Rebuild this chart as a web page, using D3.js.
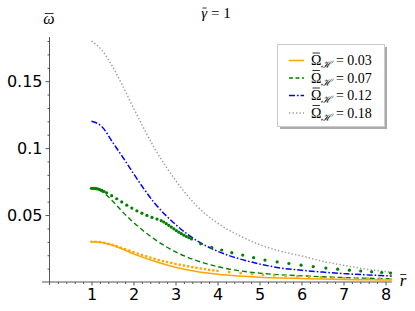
<!DOCTYPE html>
<html>
<head>
<meta charset="utf-8">
<script src="https://cdn.jsdelivr.net/npm/d3@7"></script>
<style>
  body { margin: 0; background: #fff; }
  svg { display: block; }
</style>
</head>
<body>
<div id="chart"></div>
<script>
// r grid the smooth curves are read at
const rGrid = [1, 1.25, 1.5, 1.75, 2, 2.5, 3, 3.5, 4, 4.5, 5, 5.5, 6, 6.5, 7, 7.5, 8, 8.15];

// line curves, one per Omega_H
const orangeSolid = [0.030, 0.0295, 0.0275, 0.0245, 0.021, 0.0155, 0.011, 0.0078, 0.0058, 0.0045, 0.0036, 0.0030, 0.0026, 0.0022, 0.0019, 0.0017, 0.0015, 0.0015];
const greenDash = [0.070, 0.0675, 0.0605, 0.052, 0.0445, 0.032, 0.0225, 0.016, 0.0115, 0.0085, 0.0066, 0.0054, 0.0046, 0.0039, 0.0033, 0.0029, 0.0025, 0.0024];
const blueDashDot = [0.120, 0.116, 0.1045, 0.093, 0.081, 0.059, 0.043, 0.031, 0.023, 0.0175, 0.0135, 0.0105, 0.0088, 0.0074, 0.0063, 0.0054, 0.0047, 0.0045];
const grayDotted = [0.180, 0.173, 0.161, 0.146, 0.130, 0.100, 0.076, 0.057, 0.044, 0.035, 0.028, 0.023, 0.0195, 0.0155, 0.0125, 0.0098, 0.0078, 0.0072];

// point series (orange, Omega_H = 0.03)
const orangePtsR = [1.0, 1.1, 1.2, 1.3, 1.4, 1.5, 1.6, 1.7, 1.8, 1.9, 2.0, 2.1, 2.2, 2.3, 2.4, 2.5, 2.6, 2.7, 2.8, 2.9, 3.0, 3.1, 3.2, 3.3, 3.4, 3.5, 3.6, 3.7, 3.8, 3.9, 4.0,
  4.28, 4.55, 4.82, 5.08, 5.35, 5.62, 5.9, 6.18, 6.46, 6.74, 7.02, 7.3, 7.58, 7.86, 8.12];
const orangePtsW = [0.0300, 0.0300, 0.0298, 0.0292, 0.0285, 0.0277, 0.0267, 0.0256, 0.0245, 0.0234, 0.0223, 0.0212, 0.0202, 0.0192, 0.0182, 0.0173, 0.0164, 0.0156, 0.0149, 0.0142, 0.0135, 0.0129, 0.0123, 0.0117, 0.0111, 0.0106, 0.0101, 0.0096, 0.0091, 0.0087, 0.0083,
  0.0074, 0.0066, 0.0059, 0.0054, 0.0049, 0.0045, 0.0041, 0.0038, 0.0035, 0.0032, 0.0030, 0.0028, 0.0026, 0.0024, 0.0022];

// point series (green, Omega_H = 0.07)
const greenPtsR = [1.00, 1.04, 1.08, 1.12, 1.16, 1.20, 1.25, 1.30, 1.36, 1.48, 1.60, 1.72, 1.84, 1.96, 2.08, 2.20, 2.32, 2.44, 2.56, 2.66,
  2.72, 2.78, 2.84, 2.90, 2.96, 3.02, 3.08, 3.14, 3.20, 3.26, 3.32, 3.38,
  3.60, 3.86, 4.10, 4.34, 4.60, 4.86, 5.13, 5.42, 5.70, 5.99, 6.28, 6.58, 6.86, 7.14, 7.41, 7.67, 7.91, 8.12];
const greenPtsW = [0.0700, 0.0700, 0.0699, 0.0697, 0.0694, 0.0690, 0.0684, 0.0676, 0.0666, 0.0645, 0.0622, 0.0598, 0.0574, 0.0552, 0.0532, 0.0514, 0.0497, 0.0482, 0.0470, 0.0458,
  0.0448, 0.0436, 0.0423, 0.0410, 0.0397, 0.0384, 0.0372, 0.0361, 0.0350, 0.0340, 0.0331, 0.0322,
  0.0285, 0.0259, 0.0239, 0.0219, 0.0201, 0.0182, 0.0164, 0.0150, 0.0138, 0.0126, 0.0115, 0.0104, 0.0096, 0.0088, 0.0082, 0.0076, 0.0071, 0.0067];

const legendLabels = ["0.03", "0.07", "0.12", "0.18"];
const xTicks = [1, 2, 3, 4, 5, 6, 7, 8];
const yTicks = [0.05, 0.1, 0.15];
const yTickLabels = ["0.05", "0.1", "0.15"];

const ORANGE = "#FFA500";
const GREEN = "#008000";
const BLUE = "#0000FF";
const GRAY = "#A0A0A0";
const AXIS = "#555";

const width = 415, height = 311;

const svg = d3.select("#chart").append("svg").attr("width", width).attr("height", height);

const x = d3.scaleLinear().domain([0, 8.15]).range([49.5, 391.8]);
const y = d3.scaleLinear().domain([0, 0.183]).range([282, 37]);

////////////////////////////////////////////////////////////////////////////////////
// axes

const xMinor = d3.range(0.2, 8.15, 0.2).filter(v => Math.abs(v - Math.round(v)) > 0.01);
const yMinor = d3.range(0.01, 0.182, 0.01).filter(v => Math.abs(v * 20 - Math.round(v * 20)) > 0.01);

const axes = svg.append("g");

axes.append("line")
  .attr("x1", 42).attr("x2", x(8.15)).attr("y1", y(0)).attr("y2", y(0))
  .attr("stroke", AXIS).attr("stroke-width", 1);
axes.append("line")
  .attr("x1", x(0)).attr("x2", x(0)).attr("y1", y(0) + 3).attr("y2", 37)
  .attr("stroke", AXIS).attr("stroke-width", 1);

const xAxis = axes.append("g")
  .attr("transform", `translate(0,${y(0)})`)
  .call(d3.axisBottom(x).tickValues(xTicks).tickSize(3.5).tickPadding(3.5).tickSizeOuter(0).tickFormat(d3.format("d")));
const xAxisMinor = axes.append("g")
  .attr("transform", `translate(0,${y(0)})`)
  .call(d3.axisBottom(x).tickValues(xMinor).tickSize(2).tickSizeOuter(0).tickFormat(""));

const yAxis = axes.append("g")
  .attr("transform", `translate(${x(0)},0)`)
  .call(d3.axisLeft(y).tickValues(yTicks).tickSize(4).tickPadding(3).tickSizeOuter(0).tickFormat((d, i) => yTickLabels[i]));
const yAxisMinor = axes.append("g")
  .attr("transform", `translate(${x(0)},0)`)
  .call(d3.axisLeft(y).tickValues(yMinor).tickSize(2).tickSizeOuter(0).tickFormat(""));

[xAxis, xAxisMinor, yAxis, yAxisMinor].forEach(g => {
  g.select(".domain").remove();
  g.selectAll(".tick line").attr("stroke", AXIS);
  g.selectAll(".tick text")
    .attr("fill", "#000")
    .style("font-family", "'DejaVu Sans', sans-serif")
    .style("font-size", "16px");
});

////////////////////////////////////////////////////////////////////////////////////
// curves

const line = d3.line()
  .x(d => x(d[0]))
  .y(d => y(d[1]))
  .curve(d3.curveMonotoneX);

const curves = [
  { values: grayDotted, color: GRAY, dash: "1.4,2.1", width: 1.5 },
  { values: blueDashDot, color: BLUE, dash: "6,2,1.6,2", width: 1.5 },
  { values: greenDash, color: GREEN, dash: "5,3", width: 1.4 },
  { values: orangeSolid, color: ORANGE, dash: null, width: 1.5 },
];

svg.append("g")
  .selectAll("path")
  .data(curves)
  .enter()
  .append("path")
  .attr("d", d => line(d.values.map((v, i) => [rGrid[i], v])))
  .attr("fill", "none")
  .attr("stroke", d => d.color)
  .attr("stroke-width", d => d.width)
  .attr("stroke-dasharray", d => d.dash);

// point plots drawn as small squares / dots, like the original
svg.append("g")
  .selectAll("rect")
  .data(orangePtsR.map((r, i) => [r, orangePtsW[i]]))
  .enter()
  .append("rect")
  .attr("x", d => x(d[0]) - 1.2)
  .attr("y", d => y(d[1]) - 1.2)
  .attr("width", 2.4)
  .attr("height", 2.4)
  .attr("fill", ORANGE);

svg.append("g")
  .selectAll("circle")
  .data(greenPtsR.map((r, i) => [r, greenPtsW[i]]))
  .enter()
  .append("circle")
  .attr("cx", d => x(d[0]))
  .attr("cy", d => y(d[1]))
  .attr("r", 1.6)
  .attr("fill", GREEN);

////////////////////////////////////////////////////////////////////////////////////
// labels (bars over symbols drawn as short lines)

const serif = "'Liberation Serif', 'DejaVu Serif', serif";

function barOver(textSel, charIndex, rise, inset, color) {
  const box = textSel.node().getExtentOfChar(charIndex);
  const baseY = +textSel.attr("y");
  textSel.select(function () { return this.parentNode; })
    .append("line")
    .attr("x1", box.x + inset[0]).attr("x2", box.x + box.width - inset[1])
    .attr("y1", baseY - rise).attr("y2", baseY - rise)
    .attr("stroke", color || "#000").attr("stroke-width", 0.8);
}

const title = svg.append("text")
  .attr("x", 216).attr("y", 17.5)
  .attr("text-anchor", "middle")
  .style("font-family", serif).style("font-size", "15px");
title.append("tspan").style("font-style", "italic").text("\u03B3");
title.append("tspan").text(" = 1");
barOver(title, 0, 9.5, [1.2, 0.6]);

const yLabel = svg.append("text")
  .attr("x", 49).attr("y", 24)
  .attr("text-anchor", "middle")
  .style("font-family", serif).style("font-size", "16px").style("font-style", "italic")
  .text("\u03C9");
barOver(yLabel, 0, 10.5, [1.5, 1]);

const xLabel = svg.append("text")
  .attr("x", 403).attr("y", 286)
  .attr("text-anchor", "middle")
  .style("font-family", serif).style("font-size", "17px").style("font-style", "italic")
  .text("r");
barOver(xLabel, 0, 11.5, [0.5, 0]);

////////////////////////////////////////////////////////////////////////////////////
// legend

const legend = svg.append("g");
legend.append("rect")
  .attr("x", 280).attr("y", 47).attr("width", 107).attr("height", 82)
  .attr("fill", "#aaa");
legend.append("rect")
  .attr("x", 277.5).attr("y", 44.5).attr("width", 107).attr("height", 82)
  .attr("fill", "#fff").attr("stroke", "#ccc").attr("stroke-width", 1);

const legendItems = [
  { color: ORANGE, dash: null },
  { color: GREEN, dash: "4,2.5" },
  { color: BLUE, dash: "6,2,1.6,2" },
  { color: GRAY, dash: "1.4,2.1" },
];
const rowY = [60.5, 78, 95.5, 113];

const item = legend.selectAll("g.item")
  .data(legendItems)
  .enter()
  .append("g")
  .attr("class", "item")
  .attr("transform", (d, i) => `translate(0,${rowY[i]})`);

item.append("line")
  .attr("x1", 289).attr("x2", 304).attr("y1", 0).attr("y2", 0)
  .attr("stroke", d => d.color)
  .attr("stroke-width", 1.5)
  .attr("stroke-dasharray", d => d.dash);

item.each(function (d, i) {
  const g = d3.select(this);
  const t = g.append("text")
    .attr("x", 311).attr("y", 4.5)
    .style("font-family", serif).style("font-size", "14px");
  t.append("tspan").text("\u03A9");
  t.append("tspan").attr("dy", 3).style("font-size", "10px").style("font-style", "italic").text("\u210B");
  t.append("tspan").attr("dy", -3).text(" = " + legendLabels[i]);
  barOver(t, 0, 12, [1.5, 1.5]);
});
</script>
</body>
</html>
